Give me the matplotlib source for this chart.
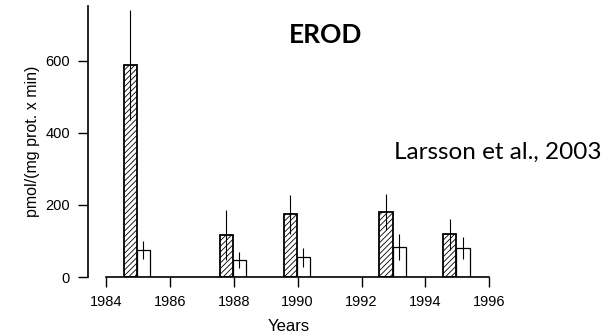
import numpy as np
import matplotlib
matplotlib.use('Agg')
import matplotlib.pyplot as plt

plt.rcParams['font.family'] = ['Liberation Sans', 'DejaVu Sans']
plt.rcParams['hatch.linewidth'] = 0.6

# data
years = [1985, 1988, 1990, 1993, 1995]
exposed = [589, 117, 174, 180, 118]
exposed_err = [152, 70, 54, 50, 43]
reference = [75, 47, 55, 83, 80]
reference_err = [24, 22, 26, 36, 30]
xticks = [1984, 1986, 1988, 1990, 1992, 1994, 1996]
yticks = [0, 200, 400, 600]

fig = plt.figure(figsize=(6.16, 3.35), dpi=100)
ax = fig.add_axes([0.1429, 0.1731, 0.6526, 0.809])

yrs = np.array(years, dtype=float) - 0.03
w = 0.41
ax.bar(yrs - w / 2, exposed, width=w, facecolor='white', edgecolor='black',
       hatch='//////', linewidth=1.3, zorder=2)
ax.bar(yrs + w / 2, reference, width=w, facecolor='white', edgecolor='black',
       linewidth=0.9, zorder=2)
ax.errorbar(yrs - w / 2, exposed, yerr=exposed_err, fmt='none', ecolor='black',
            elinewidth=0.8, capsize=0, zorder=3)
ax.errorbar(yrs + w / 2, reference, yerr=reference_err, fmt='none', ecolor='black',
            elinewidth=0.8, capsize=0, zorder=3)

ax.set_xlim(1983.44, 1996.02)
ax.set_ylim(0, 752)
ax.spines['top'].set_visible(False)
ax.spines['right'].set_visible(False)
ax.spines['bottom'].set_bounds(1984, 1996)
ax.spines['bottom'].set_linewidth(1.2)
ax.spines['left'].set_linewidth(1.2)
ax.set_xticks(xticks)
ax.set_yticks(yticks)
ax.tick_params(axis='both', direction='out', length=7, width=1, labelsize=10.5, pad=6)
ax.set_xlabel('Years', fontsize=12, labelpad=7)
ax.set_ylabel('pmol/(mg prot. x min)', fontsize=11.5, labelpad=4)

fig.text(0.529, 0.896, 'EROD', fontsize=19, fontweight='bold', family=['Lato', 'DejaVu Sans'],
         ha='center', va='center')
fig.text(0.977, 0.545, 'Larsson et al., 2003', fontsize=17.5, family=['Lato', 'DejaVu Sans'],
         ha='right', va='center')

fig.savefig('out.png', dpi=100)
